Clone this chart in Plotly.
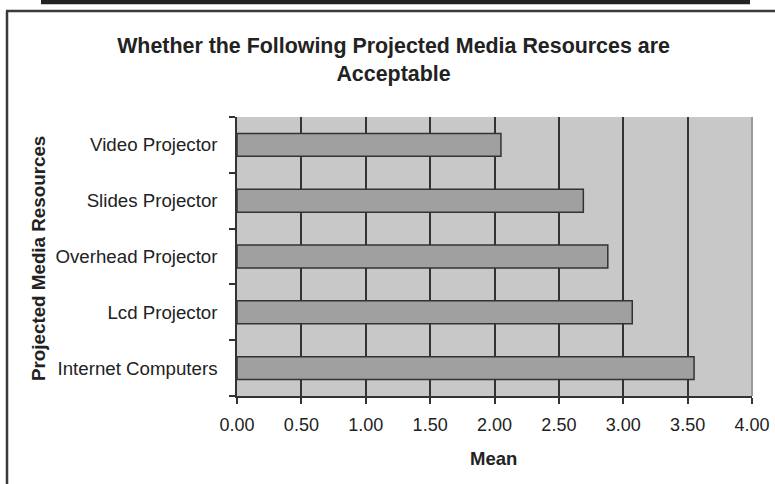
import plotly.graph_objects as go

# Survey means for each projected media resource (bottom to top)
resources = [
    "Internet Computers",
    "Lcd Projector",
    "Overhead Projector",
    "Slides Projector",
    "Video Projector",
]
mean_scores = [3.55, 3.07, 2.88, 2.69, 2.05]

x_ticks = [0, 0.5, 1, 1.5, 2, 2.5, 3, 3.5, 4]

W, H = 775, 484
L, R, T, B = 237, 23, 117, 88
PW, PH = W - L - R, H - T - B


def px_x(px):
    return (px - L) / PW


def px_y(py):
    return (H - B - py) / PH


FONT = "Liberation Sans, Arial, sans-serif"
INK = "#222222"

fig = go.Figure(
    go.Bar(
        x=mean_scores,
        y=resources,
        orientation="h",
        marker=dict(color="#a0a0a0", line=dict(color="#333333", width=1.5)),
        hoverinfo="x+y",
    )
)

fig.update_layout(
    width=W,
    height=H,
    autosize=False,
    margin=dict(l=L, r=R, t=T, b=B, pad=0, autoexpand=False),
    paper_bgcolor="white",
    plot_bgcolor="#c8c8c8",
    bargap=0.59,
    showlegend=False,
    font=dict(family=FONT, size=18, color=INK),
    title=dict(
        text="Whether the Following Projected Media Resources are<br>Acceptable",
        x=393.5 / W,
        xanchor="center",
        y=1 - 53 / H,
        yanchor="top",
        yref="container",
        automargin=False,
        font=dict(family=FONT, size=21.4, color=INK, weight="bold"),
    ),
)

fig.update_xaxes(
    range=[0, 4],
    tickvals=x_ticks,
    tickformat=".2f",
    automargin=False,
    showgrid=True,
    gridcolor="#333333",
    gridwidth=1.5,
    zeroline=False,
    showline=True,
    linecolor="#333333",
    linewidth=1.5,
    ticks="outside",
    ticklen=6,
    tickwidth=1.5,
    tickcolor="#333333",
    ticklabelstandoff=6,
    tickfont=dict(size=18, color=INK),
    fixedrange=True,
)

fig.update_yaxes(
    categoryorder="array",
    categoryarray=resources,
    automargin=False,
    showgrid=False,
    zeroline=False,
    showline=True,
    linecolor="#333333",
    linewidth=1.5,
    ticks="outside",
    tickson="boundaries",
    ticklen=6,
    tickwidth=1.5,
    tickcolor="#333333",
    ticklabelstandoff=14,
    tickfont=dict(size=18.7, color=INK),
    fixedrange=True,
)

# Axis titles
fig.add_annotation(
    text="Projected Media Resources",
    textangle=-90,
    x=px_x(38), y=px_y(259), xref="paper", yref="paper",
    xanchor="center", yanchor="middle", showarrow=False,
    font=dict(family=FONT, size=18.8, color=INK, weight="bold"),
)
fig.add_annotation(
    text="Mean",
    x=px_x(493), y=px_y(458), xref="paper", yref="paper",
    xanchor="center", yanchor="middle", showarrow=False,
    font=dict(family=FONT, size=18.5, color=INK, weight="bold"),
)

# Right edge of the plot area
fig.add_shape(type="line", xref="paper", yref="paper",
              x0=1, x1=1, y0=0, y1=1,
              line=dict(color="#999999", width=2))

# Chart frame (left and top edges) and header rule
fig.add_shape(type="line", xref="paper", yref="paper",
              x0=px_x(7), x1=px_x(7), y0=px_y(11), y1=px_y(490),
              line=dict(color="#3a3a3a", width=2.5))
fig.add_shape(type="line", xref="paper", yref="paper",
              x0=px_x(6), x1=px_x(790), y0=px_y(11), y1=px_y(11),
              line=dict(color="#3a3a3a", width=2.5))
fig.add_shape(type="line", xref="paper", yref="paper",
              x0=px_x(41), x1=px_x(750), y0=px_y(2), y1=px_y(2),
              line=dict(color="#222222", width=4.5))

fig.write_html("out.html")
